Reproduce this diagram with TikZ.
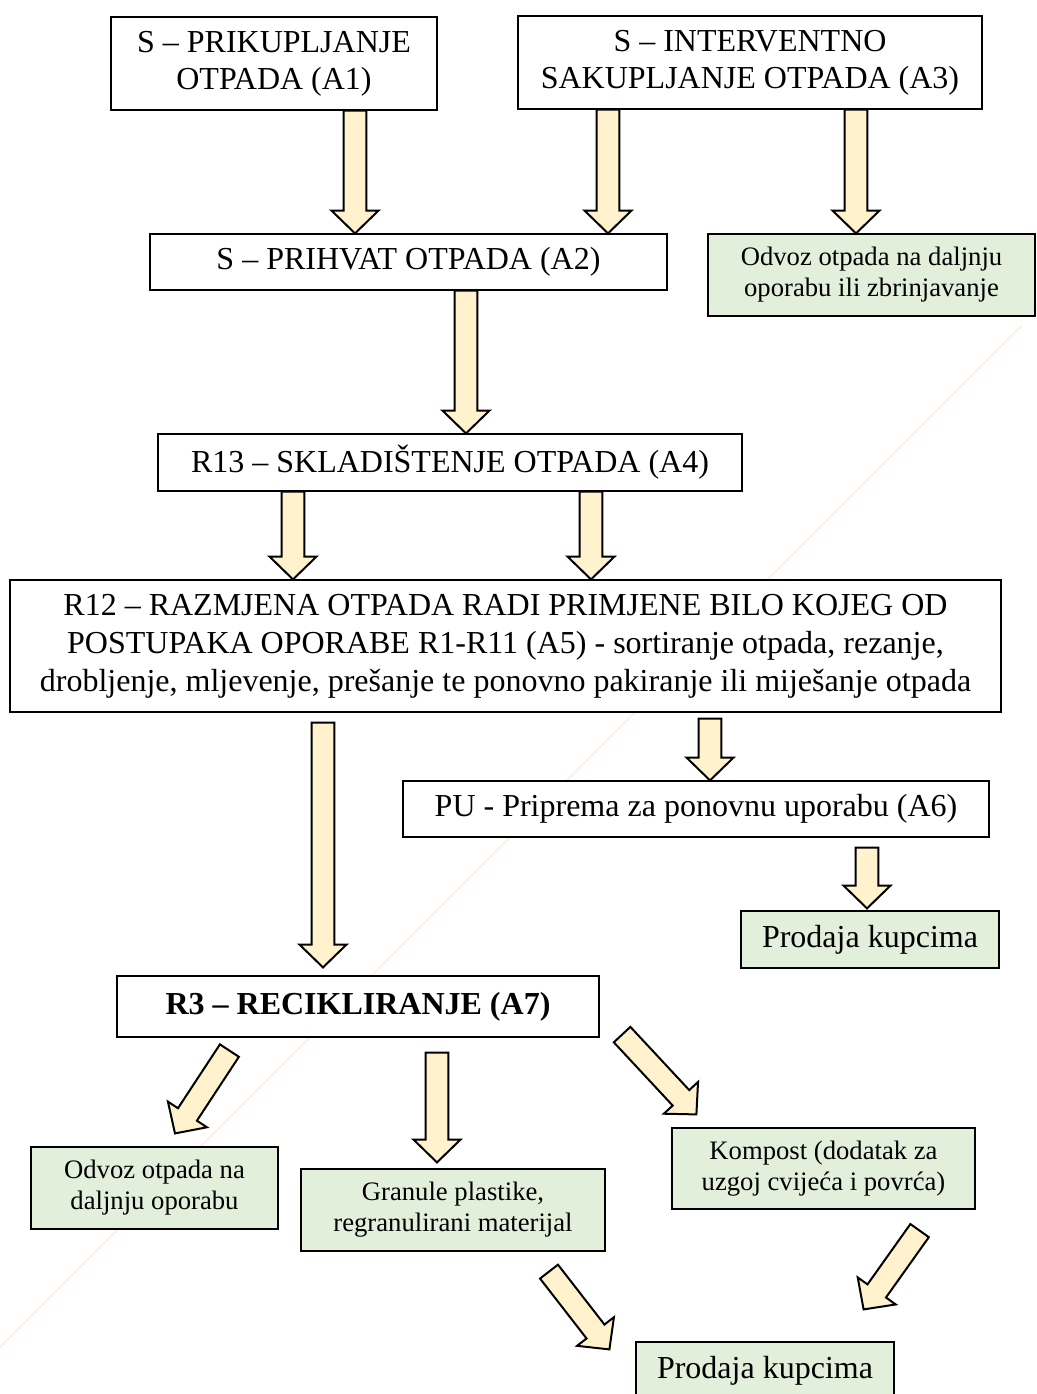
\documentclass[tikz,border=0pt]{standalone}
\usepackage{fontspec}
\setmainfont{Liberation Serif}
\usetikzlibrary{calc}

\definecolor{arrowfill}{RGB}{255,242,204}
\definecolor{boxgreen}{RGB}{226,239,218}
\definecolor{streak}{RGB}{244,177,131}

\tikzset{
  box/.style={draw, fill=white, line width=0.9pt, inner sep=0pt, align=center,
    font=\fontsize{24}{27.5}\selectfont},
  greenbox/.style={box, fill=boxgreen, font=\fontsize{20}{23.2}\selectfont},
  boxsize/.style 2 args={minimum width=#1*0.75pt, minimum height=#2*0.75pt},
  fatarr/.style={draw, fill=arrowfill, line width=1.5pt, line join=miter},
}

% block arrow from #1 to #2
\newcommand{\fatarrow}[2]{%
  \coordinate (fs) at #1;
  \coordinate (fe) at #2;
  \coordinate (fh) at ($(fe)!17pt!(fs)$);
  \draw[fatarr] ($(fs)!8.5pt!90:(fe)$) -- ($(fh)!8.5pt!90:(fe)$)
    -- ($(fh)!17.5pt!90:(fe)$) -- (fe) -- ($(fh)!17.5pt!-90:(fe)$)
    -- ($(fh)!8.5pt!-90:(fe)$) -- ($(fs)!8.5pt!-90:(fe)$) -- cycle;}

\begin{document}
\begin{tikzpicture}[x=0.75pt,y=0.75pt,yscale=-1,xscale=1]
\useasboundingbox (0,0) rectangle (1036,1394);

\draw [color=streak, opacity=0.45, line width=0.5pt] (1022,325) -- (0,1347);

\node[box, boxsize={326}{93}] (a1) at (274,63.5) {S – PRIKUPLJANJE\\OTPADA (A1)};
\node[box, boxsize={464}{93}] (a3) at (750,62.5) {S – INTERVENTNO\\SAKUPLJANJE OTPADA (A3)};
\node[box, boxsize={517}{56}] (a2) at (408.5,262) {S – PRIHVAT OTPADA (A2)};
\node[greenbox, boxsize={327}{82}] (odv1) at (871.5,275) {Odvoz otpada na daljnju\\oporabu ili zbrinjavanje};
\node[box, boxsize={584}{57}] (a4) at (450,462.5) {R13 – SKLADIŠTENJE OTPADA (A4)};
\node[box, boxsize={991}{132}, font=\fontsize{24}{28.5}\selectfont] (a5) at (505.5,646) {R12 – RAZMJENA OTPADA RADI PRIMJENE BILO KOJEG OD\\POSTUPAKA OPORABE R1-R11 (A5) - sortiranje otpada, rezanje,\\drobljenje, mljevenje, prešanje te ponovno pakiranje ili miješanje otpada};
\node[box, boxsize={586}{56}] (a6) at (696,809) {PU - Priprema za ponovnu uporabu (A6)};
\node[greenbox, boxsize={258}{57}, font=\fontsize{24}{27.5}\selectfont] (prod1) at (870,939.5) {Prodaja kupcima};
\node[box, boxsize={482}{61}] (a7) at (358,1006.5) {\textbf{R3 – RECIKLIRANJE (A7)}};
\node[greenbox, boxsize={247}{82}] (odv2) at (154.5,1188) {Odvoz otpada na\\daljnju oporabu};
\node[greenbox, boxsize={304}{82}] (gran) at (453,1210) {Granule plastike,\\regranulirani materijal};
\node[greenbox, boxsize={303}{81}] (komp) at (823.5,1168.5) {Kompost (dodatak za\\uzgoj cvijeća i povrća)};
\node[greenbox, boxsize={258}{58}, font=\fontsize{24}{27.5}\selectfont] (prod2) at (765,1371) {Prodaja kupcima};

\fatarrow{(a1.south -| 355,0)}{(a2.north -| 355,0)}
\fatarrow{(a3.south -| 608,0)}{(a2.north -| 608,0)}
\fatarrow{(a3.south -| 856,0)}{(odv1.north -| 856,0)}
\fatarrow{(a2.south -| 466,0)}{(a4.north -| 466,0)}
\fatarrow{(a4.south -| 293,0)}{(a5.north -| 293,0)}
\fatarrow{(a4.south -| 591,0)}{(a5.north -| 591,0)}
\fatarrow{($(a5.south -| 323,0)+(0,10)$)}{($(a7.north -| 323,0)+(0,-8)$)}
\fatarrow{($(a5.south -| 710,0)+(0,6)$)}{(a6.north -| 710,0)}
\fatarrow{($(a6.south -| 867,0)+(0,10)$)}{($(prod1.north -| 867,0)+(0,-2)$)}
\fatarrow{($(a7.south -| 437,0)+(0,15)$)}{($(gran.north -| 437,0)+(0,-6)$)}

% diagonal ones
\coordinate (d1s) at ($(a7.south west)+(113,13)$);
\coordinate (d1e) at ($(odv2.north)+(20.5,-13)$);
\coordinate (d2s) at ($(a7.south east)+(22.5,-3)$);
\coordinate (d2e) at ($(komp.north west)+(25,-13)$);
\coordinate (d3s) at ($(gran.south)+(96,20)$);
\coordinate (d3e) at ($(prod2.north west)+(-26,8)$);
\coordinate (d4s) at ($(komp.south east)+(-56,21)$);
\coordinate (d4e) at ($(prod2.north east)+(-31,-32)$);
\fatarrow{(d1s)}{(d1e)}
\fatarrow{(d2s)}{(d2e)}
\fatarrow{(d3s)}{(d3e)}
\fatarrow{(d4s)}{(d4e)}

\end{tikzpicture}
\end{document}
